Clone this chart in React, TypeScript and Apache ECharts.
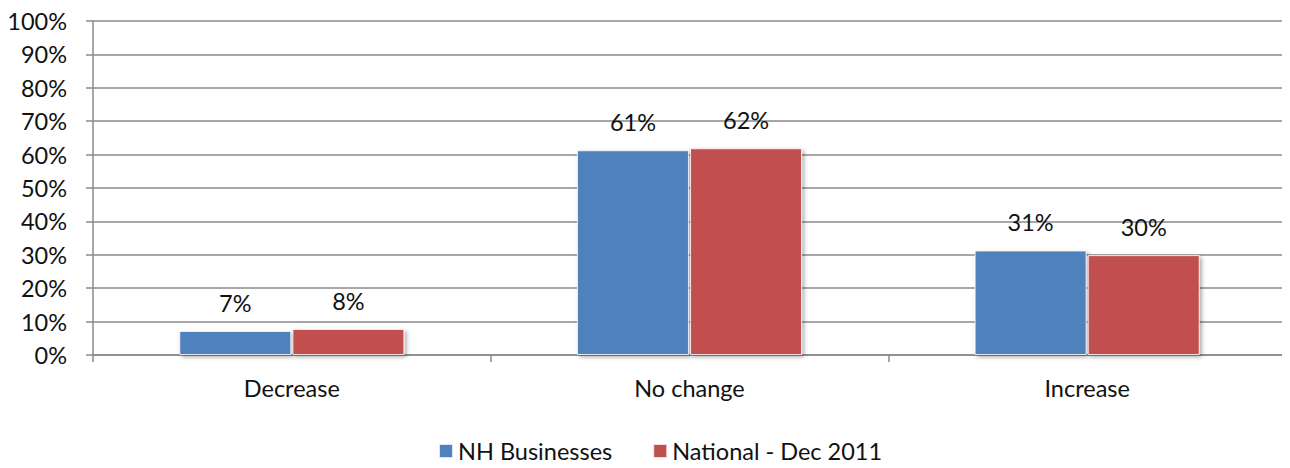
import React, { useEffect, useRef } from "react";
import * as echarts from "echarts";

const categories = ["Decrease", "No change", "Increase"];
const nhBusinesses = [7.2, 61.3, 31.3];
const nationalDec2011 = [7.8, 61.9, 29.9];
const seriesNames = ["NH Businesses", "National - Dec 2011"];

const FONT = "Lato, 'Open Sans', sans-serif";
const FS = 23.5;

export default function App() {
  const ref = useRef<HTMLDivElement>(null);
  useEffect(() => {
    if (!ref.current) return;
    const chart = echarts.init(ref.current, undefined, { renderer: "svg" });
    const barStyle = (color: string) => ({
      color,
      borderColor: "rgba(255,255,255,0.8)",
      borderWidth: 1,
      shadowColor: "rgba(0,0,0,0.35)",
      shadowBlur: 4,
      shadowOffsetX: 2,
      shadowOffsetY: 2,
    });
    const label = {
      show: true,
      position: "top",
      distance: 16,
      fontFamily: FONT,
      fontSize: FS,
      color: "#111",
      formatter: (p: any) => Math.round(p.value) + "%",
    };
    chart.setOption({
      animation: false,
      textStyle: { fontFamily: FONT },
      grid: { left: 93, right: 4, top: 21, bottom: 113, containLabel: false },
      legend: {
        top: 438,
        left: 438,
        padding: 0,
        itemWidth: 14,
        itemHeight: 14,
        itemGap: 40,
        icon: "rect",
        textStyle: { fontFamily: FONT, fontSize: FS, color: "#111", lineHeight: 26 },
        data: seriesNames,
      },
      xAxis: {
        type: "category",
        data: categories,
        axisLine: { show: true, lineStyle: { color: "#8a8a8a", width: 1.5 } },
        axisTick: { show: true, length: 7, lineStyle: { color: "#8a8a8a", width: 1.5 } },
        axisLabel: { fontFamily: FONT, fontSize: FS, color: "#111", margin: 21 },
      },
      yAxis: {
        type: "value",
        min: 0,
        max: 100,
        interval: 10,
        axisLine: { show: true, lineStyle: { color: "#8a8a8a", width: 1.5 } },
        axisTick: { show: true, length: 7, lineStyle: { color: "#8a8a8a", width: 1.5 } },
        splitLine: { show: true, lineStyle: { color: "#8a8a8a", width: 1.5 } },
        axisLabel: {
          fontFamily: FONT,
          fontSize: FS,
          color: "#111",
          margin: 26,
          formatter: (v: number) => v + "%",
        },
      },
      series: [
        {
          name: seriesNames[0],
          type: "bar",
          data: nhBusinesses,
          barWidth: 112,
          barGap: "1%",
          itemStyle: barStyle("#4f81bd"),
          label,
        },
        {
          name: seriesNames[1],
          type: "bar",
          data: nationalDec2011,
          barWidth: 112,
          barGap: "1%",
          itemStyle: barStyle("#c0504d"),
          label,
        },
      ],
    });
    return () => chart.dispose();
  }, []);
  return <div ref={ref} style={{ width: 1290, height: 468, margin: -8 }} />;
}
